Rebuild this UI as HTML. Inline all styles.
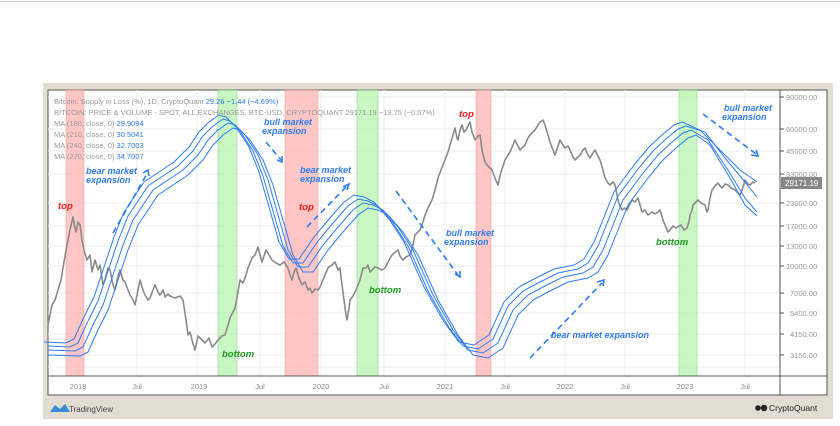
<!DOCTYPE html>
<html><head><meta charset="utf-8"><style>
body{margin:0;background:#fff;width:840px;height:421px;overflow:hidden;font-family:"Liberation Sans",sans-serif}
</style></head><body>
<svg width="840" height="421" xmlns="http://www.w3.org/2000/svg" font-family="Liberation Sans, sans-serif">
<rect x="0" y="0" width="840" height="421" fill="#fff"/>
<line x1="0" y1="1.5" x2="840" y2="1.5" stroke="#ccc"/>
<rect x="43" y="83" width="790" height="336" fill="#e2ddd2"/>
<rect x="48" y="90" width="779" height="305" fill="#fff" stroke="#555" stroke-width="1"/>
<g stroke="#eee" stroke-width="1">
<line x1="48" x2="780" y1="97" y2="97"/><line x1="48" x2="780" y1="129" y2="129"/><line x1="48" x2="780" y1="151" y2="151"/><line x1="48" x2="780" y1="174" y2="174"/><line x1="48" x2="780" y1="203" y2="203"/><line x1="48" x2="780" y1="226" y2="226"/><line x1="48" x2="780" y1="246" y2="246"/><line x1="48" x2="780" y1="266" y2="266"/><line x1="48" x2="780" y1="293" y2="293"/><line x1="48" x2="780" y1="313" y2="313"/><line x1="48" x2="780" y1="334" y2="334"/><line x1="48" x2="780" y1="355" y2="355"/><line x1="48" x2="780" y1="367" y2="367"/>
<line y1="90" y2="376" x1="137" x2="137"/><line y1="90" y2="376" x1="197" x2="197"/><line y1="90" y2="376" x1="260" x2="260"/><line y1="90" y2="376" x1="321" x2="321"/><line y1="90" y2="376" x1="384" x2="384"/><line y1="90" y2="376" x1="445" x2="445"/><line y1="90" y2="376" x1="505" x2="505"/><line y1="90" y2="376" x1="565" x2="565"/><line y1="90" y2="376" x1="625" x2="625"/><line y1="90" y2="376" x1="685" x2="685"/><line y1="90" y2="376" x1="745" x2="745"/><line y1="90" y2="376" x1="78" x2="78"/>
</g>
<g>
<rect x="66" y="90" width="18" height="286" fill="#ffb3b3" opacity="0.75" stroke="#f08080" stroke-width="0.6"/>
<rect x="218" y="90" width="19" height="286" fill="#b8f5b0" opacity="0.75" stroke="#6c6" stroke-width="0.6"/>
<rect x="285" y="90" width="33" height="286" fill="#ffb3b3" opacity="0.75" stroke="#f08080" stroke-width="0.6"/>
<rect x="357" y="90" width="21" height="286" fill="#b8f5b0" opacity="0.75" stroke="#6c6" stroke-width="0.6"/>
<rect x="476" y="90" width="15" height="286" fill="#ffb3b3" opacity="0.75" stroke="#f08080" stroke-width="0.6"/>
<rect x="679" y="90" width="18" height="286" fill="#b8f5b0" opacity="0.75" stroke="#6c6" stroke-width="0.6"/>
</g>
<polyline fill="none" stroke="#8a8a8a" stroke-width="1.6" stroke-linejoin="round" points="48,325 50,315 52,305 55,300 58,290 61,280 64,262 67,245 70,230 73,217 75,228 76,232 78,222 80,225 82,240 84,250 87,260 90,255 92,272 95,260 98,270 100,265 103,285 105,280 108,268 110,270 113,285 115,290 118,276 120,270 123,280 125,282 128,290 130,295 133,300 135,305 138,290 140,280 143,290 145,295 148,300 150,298 153,290 155,285 158,292 160,295 163,290 165,297 168,294 170,296 175,298 180,296 183,300 186,320 188,335 190,332 192,340 195,350 198,336 202,340 205,343 209,338 212,347 215,344 218,340 222,336 225,335 228,325 230,318 233,312 235,308 238,292 240,280 243,283 245,278 248,268 252,258 255,255 258,247 260,255 262,262 264,256 266,250 269,255 272,260 276,263 280,265 284,262 288,268 290,275 292,280 294,272 296,268 299,278 302,285 305,282 308,290 310,288 312,293 315,289 318,290 320,287 322,282 325,275 328,268 332,265 335,262 338,270 340,268 342,285 344,300 346,315 347,320 349,308 350,300 353,296 356,290 358,285 360,280 363,268 366,268 368,265 370,272 372,270 375,267 378,268 382,270 385,268 388,262 392,255 395,252 398,250 400,256 403,260 406,257 410,255 413,245 415,235 418,232 420,230 423,222 425,215 428,208 432,200 435,190 438,178 441,170 445,160 448,152 450,145 453,135 455,128 457,138 458,140 460,130 462,125 464,132 466,130 468,126 470,122 472,132 475,140 478,136 480,135 482,150 485,162 488,166 492,170 495,178 498,185 501,172 505,160 508,155 510,152 513,145 515,140 518,146 520,150 523,147 525,145 528,138 530,135 533,132 535,130 538,125 540,122 543,120 545,125 548,135 550,142 553,150 555,155 558,146 560,140 563,145 565,148 568,146 570,150 573,157 575,160 578,157 580,155 583,150 585,148 588,155 590,158 593,153 595,150 598,156 600,160 603,170 605,178 608,183 610,185 613,182 615,185 617,195 618,200 620,206 622,210 625,208 627,210 630,204 632,200 635,202 638,198 640,205 642,212 645,210 648,215 652,212 655,214 658,212 660,210 663,220 665,225 668,232 670,230 673,226 676,228 679,226 681,225 684,230 687,228 689,222 690,215 692,210 693,205 696,202 698,200 701,203 705,205 707,212 708,210 710,198 712,190 715,186 718,183 720,186 722,188 725,184 728,185 731,188 735,190 738,193 740,195 742,190 744,184 745,180 748,184 750,185 753,182 755,183"/>
<g fill="none" stroke="#2f7cf0" stroke-width="1">
<polyline transform="translate(-6,-3)" points="50,345 72,346 80,342 90,320 100,300 110,270 120,240 130,215 140,200 150,185 165,175 180,165 195,150 205,135 215,125 225,118 232,120 242,130 255,150 265,175 275,210 285,245 295,262 305,262 320,240 335,222 350,205 360,198 370,200 380,205 395,222 410,245 430,290 450,325 465,345 480,348 495,338 510,305 525,290 540,282 560,272 580,268 590,262 600,245 610,220 620,195 640,168 655,150 668,138 680,128 688,125 706,133 726,153 746,173 763,185"/>
<polyline transform="translate(-2,1)" points="50,345 72,346 80,342 90,320 100,300 110,270 120,240 130,215 140,200 150,185 165,175 180,165 195,150 205,135 215,125 225,118 232,120 242,130 255,150 265,175 275,210 285,245 295,262 305,262 320,240 335,222 350,205 360,198 370,200 380,205 395,222 410,245 430,290 450,325 465,345 480,348 495,338 510,305 525,290 540,282 560,272 580,268 590,262 600,245 610,220 620,195 640,168 655,150 668,138 680,128 688,125 707,131 727,157 747,181 759,196"/>
<polyline transform="translate(3,5)" points="45,345 72,346 80,342 90,320 100,300 110,270 120,240 130,215 140,200 150,185 165,175 180,165 195,150 205,135 215,125 225,118 232,120 242,130 255,150 265,175 275,210 285,245 295,262 305,262 320,240 335,222 350,205 360,198 370,200 380,205 395,222 410,245 430,290 450,325 465,345 480,348 495,338 510,305 525,290 540,282 560,272 580,268 590,262 600,245 610,220 620,195 640,168 655,150 668,138 680,128 688,125 705,135 725,165 742,193 754,207"/>
<polyline transform="translate(8,10)" points="40,345 72,346 80,342 90,320 100,300 110,270 120,240 130,215 140,200 150,185 165,175 180,165 195,150 205,135 215,125 225,118 232,120 242,130 255,150 265,175 275,210 285,245 295,262 305,262 320,240 335,222 350,205 360,198 370,200 380,205 395,222 410,245 430,290 450,325 465,345 480,348 495,338 510,305 525,290 540,282 560,272 580,268 590,262 600,245 610,220 620,195 640,168 655,150 668,138 680,128 688,125 702,135 722,168 737,195 749,206"/>
</g>
<g stroke="#2f7cf0" stroke-width="1.6" stroke-dasharray="6,4" fill="none">
<line x1="113" y1="233" x2="148" y2="172"/><line x1="266" y1="142" x2="281" y2="160"/><line x1="307" y1="227" x2="347" y2="186"/><line x1="396" y1="191" x2="458" y2="275"/><line x1="530" y1="358" x2="602" y2="283"/><line x1="703" y1="114" x2="756" y2="154"/>
</g>
<g stroke="#2f7cf0" stroke-width="1.6" fill="none">
<polyline points="143,173 148,170 149,176"/><polyline points="277,160 282,162 282,156"/><polyline points="343,187 349,184 347,190"/><polyline points="455,274 460,277 460,271"/><polyline points="597,282 604,280 603,286"/><polyline points="751,155 758,156 756,150"/>
</g>
<g font-size="9" font-style="italic" font-weight="bold" fill="#2f7cf0">
<text x="86" y="174">bear market</text><text x="86" y="183">expansion</text>
<text x="264" y="125">bull market</text><text x="262" y="134">expansion</text>
<text x="300" y="173">bear market</text><text x="300" y="182">expansion</text>
<text x="446" y="236">bull market</text><text x="444" y="245">expansion</text>
<text x="551" y="338">bear market expansion</text>
<text x="724" y="111">bull market</text><text x="722" y="120">expansion</text>
</g>
<g font-size="9.5" font-style="italic" font-weight="bold">
<text x="58" y="209" fill="#f01818">top</text><text x="299" y="210" fill="#f01818">top</text><text x="459" y="117" fill="#f01818">top</text>
<text x="222" y="357" fill="#1f9a1f">bottom</text><text x="369" y="293" fill="#1f9a1f">bottom</text><text x="656" y="245" fill="#1f9a1f">bottom</text>
</g>
<g font-size="7.5" fill="#999">
<text x="54" y="104">Bitcoin: Supply in Loss (%), 1D, CryptoQuant <tspan fill="#2f7cf0">29.26  −1.44 (−4.69%)</tspan></text>
<text x="54" y="115">BITCOIN: PRICE &amp; VOLUME - SPOT, ALL EXCHANGES, BTC-USD, CRYPTOQUANT  29171.19  −19.75 (−0.07%)</text>
<text x="54" y="126">MA (180, close, 0)  <tspan fill="#2f7cf0">29.9094</tspan></text>
<text x="54" y="137">MA (210, close, 0)  <tspan fill="#2f7cf0">30.5041</tspan></text>
<text x="54" y="148">MA (240, close, 0)  <tspan fill="#2f7cf0">32.7003</tspan></text>
<text x="54" y="159">MA (270, close, 0)  <tspan fill="#2f7cf0">34.7007</tspan></text>
</g>
<line x1="780" y1="90" x2="780" y2="395" stroke="#555"/>
<line x1="48" y1="376" x2="827" y2="376" stroke="#555"/>
<g stroke="#555"><line x1="780" x2="784" y1="97" y2="97"/><line x1="780" x2="784" y1="129" y2="129"/><line x1="780" x2="784" y1="151" y2="151"/><line x1="780" x2="784" y1="174" y2="174"/><line x1="780" x2="784" y1="203" y2="203"/><line x1="780" x2="784" y1="226" y2="226"/><line x1="780" x2="784" y1="246" y2="246"/><line x1="780" x2="784" y1="266" y2="266"/><line x1="780" x2="784" y1="293" y2="293"/><line x1="780" x2="784" y1="313" y2="313"/><line x1="780" x2="784" y1="334" y2="334"/><line x1="780" x2="784" y1="355" y2="355"/></g>
<g font-size="7.5" fill="#999">
<text x="786" y="100">90000.00</text><text x="786" y="132">60000.00</text><text x="786" y="154">45000.00</text><text x="786" y="177">33000.00</text><text x="786" y="206">23000.00</text><text x="786" y="229">17000.00</text><text x="786" y="249">13000.00</text><text x="786" y="269">10000.00</text><text x="790" y="296">7000.00</text><text x="790" y="316">5400.00</text><text x="790" y="337">4150.00</text><text x="790" y="358">3150.00</text>
</g>
<rect x="781" y="177" width="41" height="12" fill="#888"/>
<text x="785" y="186" font-size="8" fill="#fff">29171.19</text>
<g font-size="7.5" fill="#888" text-anchor="middle">
<text x="78" y="389">2018</text><text x="137" y="389">Jul</text><text x="199" y="389">2019</text><text x="260" y="389">Jul</text><text x="321" y="389">2020</text><text x="384" y="389">Jul</text><text x="445" y="389">2021</text><text x="505" y="389">Jul</text><text x="565" y="389">2022</text><text x="625" y="389">Jul</text><text x="685" y="389">2023</text><text x="745" y="389">Jul</text>
</g>
<path d="M50,412 L55,405 L60,409 L65,404 L70,412 Z" fill="#3b8ad8"/>
<text x="69" y="412" font-size="8" fill="#444">TradingView</text>
<circle cx="758" cy="408" r="2.8" fill="#222"/><circle cx="764" cy="408" r="3.2" fill="#222"/>
<text x="769" y="411" font-size="8.5" fill="#222">CryptoQuant</text>
</svg>
</body></html>
